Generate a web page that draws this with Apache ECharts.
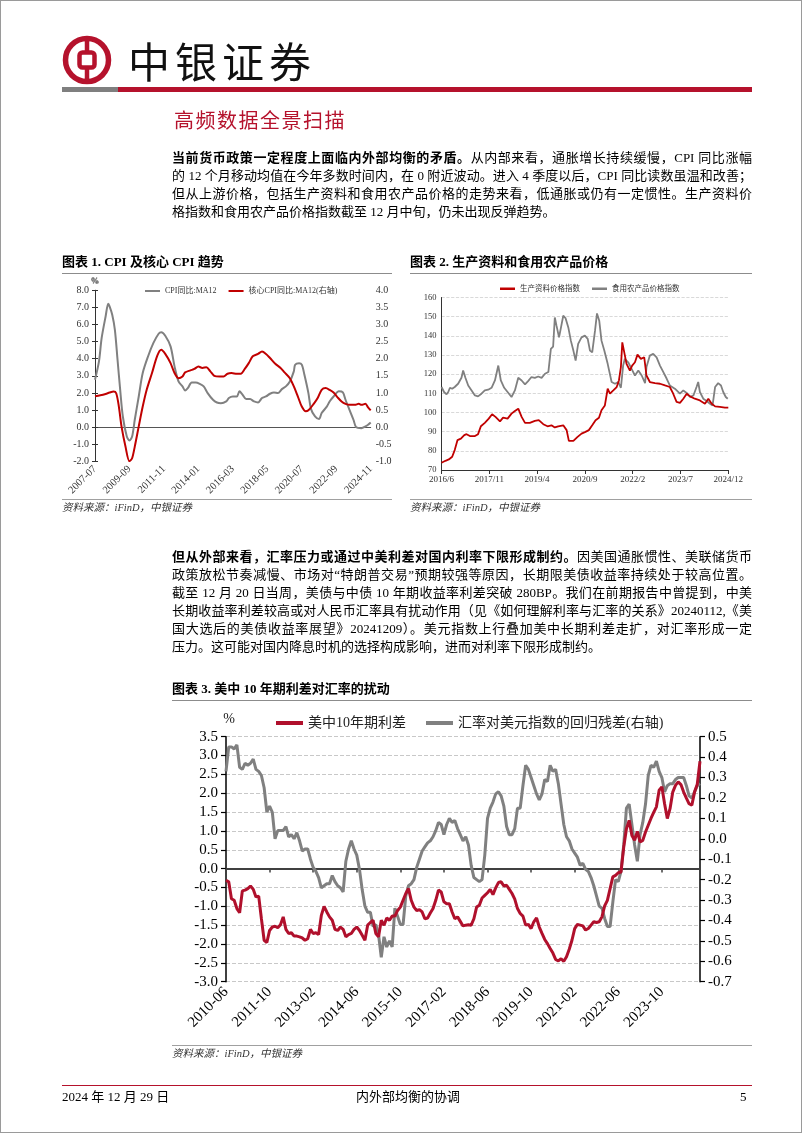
<!DOCTYPE html>
<html><head><meta charset="utf-8">
<script src="https://cdn.jsdelivr.net/npm/echarts/dist/echarts.min.js"></script>
<style>
body{margin:0;background:#fff}
#page{position:relative;width:802px;height:1133px;overflow:hidden;background:#fff;font-family:'Liberation Serif','Noto Sans CJK SC',serif;color:#000}
#chart{position:absolute;left:0;top:0;width:802px;height:1133px}
.a{position:absolute;white-space:nowrap}
.ln{position:absolute;left:172px;width:580px;height:18px;line-height:18px;font-size:13px;text-align:justify;text-align-last:justify;white-space:nowrap}
.ln.last{text-align-last:left}
.tt{font-size:13px;font-weight:bold;line-height:16px}
.hr{position:absolute;height:1px;background:#8c8c8c}
.src{font-size:10.5px;font-style:italic;color:#333;line-height:14px}
#frame{position:absolute;left:0;top:0;width:802px;height:1133px;border:1px solid #9a9a9a;box-sizing:border-box;pointer-events:none}
</style></head>
<body><div id="page">
<div id="chart"></div>
<svg class="a" style="left:60px;top:33px" width="56" height="56" viewBox="0 0 56 56">
<circle cx="27" cy="27" r="21.5" fill="none" stroke="#B5122C" stroke-width="5.5"/>
<rect x="19.5" y="19.5" width="15" height="15" rx="3" fill="none" stroke="#B5122C" stroke-width="4.5"/>
<line x1="27" y1="6" x2="27" y2="19" stroke="#B5122C" stroke-width="4.5"/>
<line x1="27" y1="35" x2="27" y2="48" stroke="#B5122C" stroke-width="4.5"/>
</svg>
<div class="a" style="left:128px;top:34px;font-size:42px;line-height:52px;letter-spacing:5px;font-family:'Noto Sans CJK SC';color:#111">中银证券</div>
<div class="a" style="left:62px;top:87px;width:56px;height:5px;background:#7f7f7f"></div>
<div class="a" style="left:118px;top:87px;width:634px;height:5px;background:#B5122C"></div>
<div class="a" style="left:174px;top:108px;font-size:20px;line-height:24px;letter-spacing:1.5px;color:#B5122C;font-family:'Noto Sans CJK SC'">高频数据全景扫描</div>

<div class="ln" style="top:149px"><b>当前货币政策一定程度上面临内外部均衡的矛盾。</b>从内部来看，通胀增长持续缓慢，CPI 同比涨幅</div>
<div class="ln" style="top:167px">的 12 个月移动均值在今年多数时间内，在 0 附近波动。进入 4 季度以后，CPI 同比读数虽温和改善；</div>
<div class="ln" style="top:185px">但从上游价格，包括生产资料和食用农产品价格的走势来看，低通胀或仍有一定惯性。生产资料价</div>
<div class="ln last" style="top:203px">格指数和食用农产品价格指数截至 12 月中旬，仍未出现反弹趋势。</div>

<div class="a tt" style="left:62px;top:254px">图表 1. CPI 及核心 CPI 趋势</div>
<div class="hr" style="left:62px;top:273px;width:330px"></div>
<div class="a tt" style="left:410px;top:254px">图表 2. 生产资料和食用农产品价格</div>
<div class="hr" style="left:410px;top:273px;width:342px"></div>
<div class="hr" style="left:62px;top:499px;width:330px;background:#a0a0a0"></div>
<div class="hr" style="left:410px;top:499px;width:342px;background:#a0a0a0"></div>
<div class="a src" style="left:62px;top:501px">资料来源：iFinD，中银证券</div>
<div class="a src" style="left:410px;top:501px">资料来源：iFinD，中银证券</div>

<div class="ln" style="top:548px"><b>但从外部来看，汇率压力或通过中美利差对国内利率下限形成制约。</b>因美国通胀惯性、美联储货币</div>
<div class="ln" style="top:566px">政策放松节奏减慢、市场对“特朗普交易”预期较强等原因，长期限美债收益率持续处于较高位置。</div>
<div class="ln" style="top:584px">截至 12 月 20 日当周，美债与中债 10 年期收益率利差突破 280BP。我们在前期报告中曾提到，中美</div>
<div class="ln" style="top:602px">长期收益率利差较高或对人民币汇率具有扰动作用（见《如何理解利率与汇率的关系》20240112,《美</div>
<div class="ln" style="top:620px">国大选后的美债收益率展望》20241209）。美元指数上行叠加美中长期利差走扩，对汇率形成一定</div>
<div class="ln last" style="top:638px">压力。这可能对国内降息时机的选择构成影响，进而对利率下限形成制约。</div>

<div class="a tt" style="left:172px;top:681px">图表 3. 美中 10 年期利差对汇率的扰动</div>
<div class="hr" style="left:172px;top:700px;width:580px"></div>
<div class="hr" style="left:172px;top:1045px;width:580px;background:#a0a0a0"></div>
<div class="a src" style="left:172px;top:1047px">资料来源：iFinD，中银证券</div>

<div class="a" style="left:62px;top:1085px;width:690px;height:1px;background:#B5122C"></div>
<div class="a" style="left:62px;top:1089px;font-size:13px;line-height:16px">2024 年 12 月 29 日</div>
<div class="a" style="left:356px;top:1089px;font-size:13px;line-height:16px">内外部均衡的协调</div>
<div class="a" style="left:740px;top:1089px;font-size:13px;line-height:16px">5</div>
<div id="frame"></div>
</div>
<script>
// ---------- Chart 1: CPI & core CPI (x = months since 2007-07) ----------
const cpiTicks = ['2007-07','2009-09','2011-11','2014-01','2016-03','2018-05','2020-07','2022-09','2024-11'];
const cpiMonth = [0,3,5,8,10,11,13,15,17,19,21,24,26,28,30,33,36,40,44,48,50,53,57,60,63,66,68,70,73,76,79,82,85,89,92,95,99,101,104,107,109,111,114,117,120,123,126,129,132,135,138,141,144,147,150,151,154,156,158,161,163,166,169,171,175,177,180,184,187,189,192,195,197,201,204,206,208];
const cpiValue = [2.77,3.84,5.2,6.47,7.21,7.06,6.57,5.69,3.94,2.18,0.62,-0.55,-0.78,-0.55,0.43,1.79,3.16,4.13,4.91,5.46,5.54,5.34,4.72,3.55,2.67,2.38,2.14,2.28,2.61,2.61,2.53,2.38,1.99,1.60,1.44,1.40,1.50,1.70,1.79,1.79,2.09,1.93,1.64,1.64,1.50,1.44,1.70,1.79,1.95,2.03,1.99,2.22,2.38,2.67,3.26,3.65,3.74,3.65,3.06,1.99,1.05,0.62,0.47,0.82,1.21,1.50,1.79,2.09,2.03,1.60,1.01,0.43,0.00,-0.06,0.04,0.14,0.27];
const coreMonth = [0,4,8,11,14,16,18,20,23,26,28,30,33,36,39,43,47,50,53,57,60,63,66,68,72,75,78,81,84,87,90,94,97,100,103,107,110,113,116,119,123,126,129,132,136,140,143,147,150,153,156,159,161,165,168,171,174,177,180,183,186,189,192,196,199,201,204,206,208];
const coreValue = [0.90,0.93,0.97,1.01,1.04,0.99,0.60,0.02,-0.57,-1.0,-0.91,-0.57,0.02,0.60,1.09,1.58,2.09,2.26,2.14,1.87,1.58,1.43,1.48,1.60,1.66,1.70,1.77,1.73,1.75,1.63,1.50,1.48,1.48,1.56,1.58,1.56,1.56,1.70,1.87,2.07,2.14,2.21,2.14,2.02,1.85,1.73,1.60,1.43,1.19,0.90,0.60,0.46,0.49,0.68,0.85,1.09,1.14,1.09,1.01,0.87,0.75,0.68,0.65,0.65,0.68,0.65,0.68,0.58,0.49];

// ---------- Chart 2: price indices (x = months since 2016/6) ----------
const priceTicks = ['2016/6','2017/11','2019/4','2020/9','2022/2','2023/7','2024/12'];
const materialMonth = [0,1.4,2.6,3.8,4.7,5.7,6.9,8.1,8.9,10.1,11.9,13.0,14.0,15.4,16.8,18.0,19.2,20.8,21.9,23.5,24.9,26.1,27.3,28.5,29.7,31.4,33.2,34.6,36.2,37.7,39.1,40.3,41.5,43.3,44.5,45.3,46.9,48.4,49.8,51.2,52.4,53.6,54.8,56.0,56.9,58.1,59.1,59.9,61.1,62.3,63.1,63.8,64.3,65.0,65.8,67.0,67.8,68.8,69.7,70.9,72.1,72.9,74.1,75.9,77.7,79.5,81.2,82.4,83.6,84.8,86.0,87.2,88.4,90.1,91.9,93.7,94.9,96.1,97.3,99.0,100.8,102];
const materialValue = [73.8,74.8,75.5,76.9,80.4,85.6,86.4,88.2,88.7,87.7,87.7,88.7,92.8,94.6,96.8,99.1,97.7,95.4,97.3,96.8,99.4,100.8,102.0,97.7,94.6,94.6,95.6,96.0,93.9,92.8,93.3,92.2,92.8,93.3,90.8,85.2,85.2,87.3,89.0,89.9,90.8,93.3,96.0,97.3,101.2,103.7,112.4,109.8,111.5,113.3,116.7,123.7,136.6,131.4,125.4,121.9,124.5,126.2,130.2,128.0,128.8,119.3,115.9,115.3,115.0,114.1,113.3,109.8,105.5,105.0,107.2,109.8,108.4,107.2,106.3,104.6,107.2,104.6,103.2,102.9,102.5,102.5];
const farmMonth = [0,0.9,1.8,2.4,3.0,3.8,4.7,5.9,7.1,7.7,8.5,9.5,10.7,11.9,13.0,14.2,15.4,16.6,17.8,19.0,20.2,21.1,22.3,23.5,24.9,26.1,27.3,28.5,29.7,30.8,32.0,33.2,34.4,35.6,36.8,38.0,38.9,39.7,40.3,40.9,41.8,42.5,43.3,44.1,45.1,46.0,46.9,47.7,48.6,49.8,51.0,52.0,52.8,53.6,54.6,55.3,56.1,56.9,57.9,59.1,60.5,61.7,62.9,63.8,64.6,65.2,66.4,67.6,68.8,70.0,71.2,72.4,72.9,74.1,75.3,76.5,77.7,78.9,80.1,81.2,83.0,84.8,86.0,87.2,88.4,89.6,90.7,91.3,91.9,93.1,94.3,95.5,96.4,97.3,98.4,99.4,100.2,101.1,101.8];
const farmValue = [113.3,110.7,109.5,110.7,112.9,112.4,113.3,115.0,118.1,121.9,118.1,114.1,111.5,108.9,108.4,109.8,111.5,111.9,112.9,116.7,124.5,116.7,112.9,110.7,108.1,111.5,118.1,116.7,114.7,116.4,118.5,118.1,118.8,118.1,120.2,121.1,133.2,134.4,149.6,145.3,139.2,144.4,150.5,149.3,144.4,137.5,132.3,127.1,135.8,139.2,140.1,138.4,132.3,131.4,142.7,151.7,147.9,137.5,132.3,125.4,115.9,115.0,115.9,112.9,124.5,128.0,126.2,122.8,119.3,121.9,119.3,115.3,123.7,129.7,130.6,128.8,124.5,121.1,117.6,114.1,112.4,109.8,111.5,110.2,108.1,108.9,113.3,115.9,110.7,107.2,106.0,104.6,103.7,113.3,115.3,114.1,110.7,108.1,107.2];

// ---------- Chart 3: US-China 10Y spread & FX residual (monthly from 2010-06) ----------
const spreadValue = [-0.31,-0.35,-0.80,-0.84,-1.06,-1.17,-0.59,-0.57,-0.53,-0.46,-0.55,-0.75,-0.73,-1.33,-1.90,-1.96,-1.64,-1.55,-1.53,-1.57,-1.49,-1.28,-1.61,-1.72,-1.70,-1.79,-1.79,-1.81,-1.84,-1.90,-1.86,-1.61,-1.72,-1.70,-1.75,-1.24,-1.00,-1.15,-1.28,-1.37,-1.61,-1.64,-1.55,-1.61,-1.81,-1.75,-1.72,-1.61,-1.55,-1.64,-1.77,-1.90,-1.50,-1.43,-1.37,-1.72,-1.81,-1.37,-1.50,-1.31,-1.37,-1.26,-1.26,-1.11,-1.02,-0.84,-0.66,-0.53,-0.84,-1.02,-1.11,-1.09,-1.15,-1.33,-1.31,-1.18,-1.06,-0.84,-0.57,-0.62,-0.88,-0.93,-0.93,-1.15,-1.33,-1.28,-1.40,-1.52,-1.50,-1.49,-1.50,-1.33,-1.02,-0.97,-0.78,-0.71,-0.64,-0.55,-0.69,-0.51,-0.37,-0.35,-0.46,-0.44,-0.55,-0.66,-0.81,-1.06,-1.19,-1.26,-1.50,-1.48,-1.59,-1.41,-1.31,-1.55,-1.72,-1.88,-1.99,-2.12,-2.24,-2.41,-2.45,-2.39,-2.46,-2.34,-2.14,-1.90,-1.59,-1.48,-1.50,-1.52,-1.63,-1.59,-1.50,-1.41,-1.43,-1.41,-1.28,-0.99,-0.84,-0.53,-0.22,-0.18,-0.11,-0.09,0.57,1.06,1.28,0.88,0.75,0.99,0.71,0.75,0.97,1.15,1.33,1.49,1.64,2.08,2.17,1.72,1.33,1.59,2.03,2.21,2.30,2.23,2.03,1.87,1.72,1.68,2.03,2.24,2.85];
const residualValue = [0.33,0.45,0.45,0.44,0.46,0.35,0.34,0.37,0.36,0.37,0.39,0.34,0.33,0.31,0.25,0.13,0.16,0.13,0.00,0.04,0.04,0.04,0.06,0.01,0.02,0.00,0.03,-0.01,-0.06,-0.05,-0.05,-0.10,-0.14,-0.16,-0.19,-0.24,-0.23,-0.22,-0.22,-0.18,-0.21,-0.23,-0.24,-0.26,-0.11,-0.05,-0.01,-0.05,-0.08,-0.15,-0.25,-0.33,-0.36,-0.36,-0.43,-0.42,-0.47,-0.58,-0.48,-0.53,-0.50,-0.53,-0.34,-0.38,-0.42,-0.42,-0.28,-0.23,-0.22,-0.20,-0.14,-0.10,-0.06,-0.04,-0.02,-0.01,0.01,0.04,0.08,0.07,0.02,0.07,0.10,0.08,0.09,0.05,0.02,-0.01,0.01,-0.03,-0.13,-0.19,-0.20,-0.21,-0.20,-0.08,0.10,0.15,0.18,0.22,0.23,0.21,0.16,0.06,0.02,0.02,0.05,0.15,0.15,0.26,0.36,0.34,0.30,0.26,0.22,0.19,0.22,0.29,0.28,0.36,0.33,0.34,0.27,0.17,0.07,0.01,-0.01,-0.05,-0.07,-0.09,-0.13,-0.12,-0.15,-0.16,-0.19,-0.23,-0.28,-0.33,-0.34,-0.39,-0.43,-0.43,-0.31,-0.20,-0.21,-0.16,-0.03,0.15,0.17,0.07,-0.03,-0.11,0.02,0.08,0.17,0.31,0.36,0.35,0.38,0.33,0.30,0.23,0.26,0.27,0.27,0.29,0.30,0.30,0.30,0.26,0.21,0.20,0.23,0.26,0.27];
const spreadStart = [2010, 6];
const spreadCategories = spreadValue.map((_, i) => {
  const t = spreadStart[0] * 12 + spreadStart[1] - 1 + i;
  return Math.floor(t / 12) + '-' + String(t % 12 + 1).padStart(2, '0');
});

const SERIF = "'Liberation Serif','Noto Sans CJK SC',serif";
const RED = '#C00000', RED3 = '#B0102C', GRAY = '#808080';
const f1 = v => (Math.abs(v) < 1e-9 ? 0 : v).toFixed(1);
const pairs = (xs, ys) => xs.map((x, i) => [x, ys[i]]);

const chart = echarts.init(document.getElementById('chart'));
chart.setOption({
  animation: false,
  textStyle: { fontFamily: SERIF },
  grid: [
    { left: 95, top: 290.3, width: 275.7, height: 171 },
    { left: 441.5, top: 297.5, width: 286.8, height: 172.5 },
    { left: 226, top: 736.7, width: 474, height: 245 }
  ],
  legend: [
    { data: ['CPI同比:MA12', '核心CPI同比:MA12(右轴)'], left: 140, top: 282, icon: 'rect', itemWidth: 15, itemHeight: 2, itemGap: 12,
      textStyle: { fontSize: 8, color: '#333', fontFamily: SERIF } },
    { data: ['生产资料价格指数', '食用农产品价格指数'], left: 495, top: 280, icon: 'rect', itemWidth: 15, itemHeight: 2.5, itemGap: 12,
      textStyle: { fontSize: 7.5, color: '#333', fontFamily: SERIF } },
    { data: ['美中10年期利差', '汇率对美元指数的回归残差(右轴)'], left: 271, top: 711, icon: 'rect', itemWidth: 27, itemHeight: 4, itemGap: 20,
      textStyle: { fontSize: 14, color: '#222', fontFamily: SERIF } }
  ],
  xAxis: [
    { gridIndex: 0, type: 'value', min: 0, max: 208, interval: 26,
      axisLine: { show: false, onZero: false }, axisTick: { show: false }, splitLine: { show: false },
      axisLabel: { rotate: 45, fontSize: 10.5, color: '#333', margin: 6, fontFamily: SERIF, formatter: v => cpiTicks[Math.round(v / 26)] || '' } },
    { gridIndex: 0, type: 'value', min: 0, max: 208, interval: 26,
      axisLine: { show: true, onZero: true, lineStyle: { color: '#555', width: 1 } }, axisTick: { show: false },
      axisLabel: { show: false }, splitLine: { show: false } },
    { gridIndex: 1, type: 'value', min: 0, max: 102, interval: 17,
      axisLine: { show: true, onZero: false, lineStyle: { color: '#333', width: 1 } },
      axisTick: { show: true, length: 4, lineStyle: { color: '#333' } }, splitLine: { show: false },
      axisLabel: { fontSize: 9, color: '#333', margin: 5, fontFamily: SERIF, formatter: v => priceTicks[Math.round(v / 17)] || '' } },
    { gridIndex: 2, type: 'category', data: spreadCategories, boundaryGap: false,
      axisLine: { show: true, onZero: true, lineStyle: { color: '#404040', width: 2 } },
      axisTick: { show: true, interval: 15, length: 4, lineStyle: { color: '#404040', width: 1.5 } },
      axisLabel: { show: false } },
    { gridIndex: 2, type: 'category', data: spreadCategories, boundaryGap: false, position: 'bottom',
      axisLine: { show: false, onZero: false }, axisTick: { show: false },
      axisLabel: { interval: 15, rotate: 45, fontSize: 15, color: '#000', margin: 8, fontFamily: SERIF } }
  ],
  yAxis: [
    { gridIndex: 0, type: 'value', position: 'left', min: -2, max: 8, interval: 1,
      name: '%', nameLocation: 'end', nameGap: 4, nameTextStyle: { fontSize: 9, color: '#333', fontFamily: SERIF },
      axisLine: { show: true, lineStyle: { color: '#333' } }, axisTick: { show: true, length: 3 },
      splitLine: { show: false }, axisLabel: { fontSize: 10, color: '#333', margin: 6, formatter: f1, fontFamily: SERIF } },
    { gridIndex: 0, type: 'value', position: 'right', min: -1, max: 4, interval: 0.5,
      name: '%', nameLocation: 'end', nameGap: 4, nameTextStyle: { fontSize: 9, color: '#333', fontFamily: SERIF },
      axisLine: { show: true, lineStyle: { color: '#333' } }, axisTick: { show: true, length: 3 },
      splitLine: { show: false }, axisLabel: { fontSize: 10, color: '#333', margin: 5, formatter: f1, fontFamily: SERIF } },
    { gridIndex: 1, type: 'value', min: 70, max: 160, interval: 10,
      axisLine: { show: true, lineStyle: { color: '#333' } }, axisTick: { show: false },
      splitLine: { show: true, lineStyle: { type: 'dashed', color: '#cfcfcf', width: 0.8 } },
      axisLabel: { fontSize: 8.5, color: '#333', margin: 5, fontFamily: SERIF } },
    { gridIndex: 2, type: 'value', position: 'left', min: -3, max: 3.5, interval: 0.5,
      name: '%', nameLocation: 'end', nameGap: 10, nameTextStyle: { fontSize: 14, color: '#222', fontFamily: SERIF, padding: [0, 0, 0, 6] },
      axisLine: { show: true, lineStyle: { color: '#000', width: 1.5 } }, axisTick: { show: true, length: 5, lineStyle: { color: '#000', width: 1.2 } },
      splitLine: { show: true, lineStyle: { type: 'dashed', color: '#c8c8c8', width: 1 } },
      axisLabel: { fontSize: 15, color: '#000', margin: 8, formatter: f1, fontFamily: SERIF } },
    { gridIndex: 2, type: 'value', position: 'right', min: -0.7, max: 0.5, interval: 0.1,
      axisLine: { show: true, lineStyle: { color: '#000', width: 1.5 } }, axisTick: { show: true, length: 5, lineStyle: { color: '#000', width: 1.2 } },
      splitLine: { show: false },
      axisLabel: { fontSize: 15, color: '#000', margin: 8, formatter: f1, fontFamily: SERIF } }
  ],
  series: [
    { name: 'CPI同比:MA12', type: 'line', xAxisIndex: 0, yAxisIndex: 0, data: pairs(cpiMonth, cpiValue),
      showSymbol: false, smooth: 0.3, color: GRAY, lineStyle: { color: GRAY, width: 2 } },
    { name: '核心CPI同比:MA12(右轴)', type: 'line', xAxisIndex: 0, yAxisIndex: 1, data: pairs(coreMonth, coreValue),
      showSymbol: false, smooth: 0.3, color: RED, lineStyle: { color: RED, width: 2 } },
    { name: '食用农产品价格指数', type: 'line', xAxisIndex: 2, yAxisIndex: 2, data: pairs(farmMonth, farmValue),
      showSymbol: false, color: GRAY, lineStyle: { color: GRAY, width: 1.8 } },
    { name: '生产资料价格指数', type: 'line', xAxisIndex: 2, yAxisIndex: 2, data: pairs(materialMonth, materialValue),
      showSymbol: false, color: RED, lineStyle: { color: RED, width: 1.8 } },
    { name: '汇率对美元指数的回归残差(右轴)', type: 'line', xAxisIndex: 3, yAxisIndex: 4, data: residualValue,
      showSymbol: false, color: GRAY, lineStyle: { color: GRAY, width: 3 } },
    { name: '美中10年期利差', type: 'line', xAxisIndex: 3, yAxisIndex: 3, data: spreadValue,
      showSymbol: false, color: RED3, lineStyle: { color: RED3, width: 3 } }
  ]
});
</script>
</body></html>
